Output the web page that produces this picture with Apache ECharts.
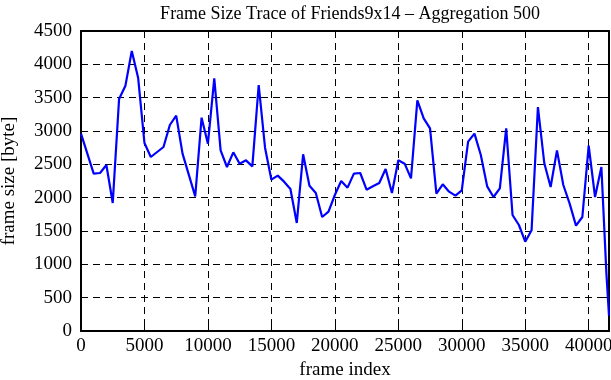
<!DOCTYPE html>
<html>
<head>
<meta charset="utf-8">
<script src="https://cdn.jsdelivr.net/npm/echarts@6/dist/echarts.min.js"></script>
<style>
html, body { margin: 0; padding: 0; background: #fff; }
#main { width: 611px; height: 380px; }
</style>
</head>
<body>
<div id="main"></div>
<script>
// frame index of each aggregated point (every 500 frames)
var frameIndex = [
  0, 1000, 1500, 2000, 2500, 3000, 3500, 4000, 4500, 5000,
  5500, 6500, 7000, 7500, 8000, 9000, 9500, 10000, 10500, 11000,
  11500, 12000, 12500, 13000, 13500, 14000, 14500, 15000, 15500, 16000,
  16500, 17000, 17500, 18000, 18500, 19000, 19500, 20000, 20500, 21000,
  21500, 22000, 22500, 23000, 23500, 24000, 24500, 25000, 25500, 26000,
  26500, 27000, 27500, 28000, 28500, 29000, 29500, 30000, 30500, 31000,
  31500, 32000, 32500, 33000, 33500, 34000, 34500, 35000, 35500, 36000,
  36500, 37000, 37500, 38000, 38500, 39000, 39500, 40000, 40500, 41000,
  41400, 41600
];
// frame size [byte]
var frameSize = [
  2960, 2360, 2370, 2490, 1920, 3480, 3680, 4200, 3800, 2820,
  2610, 2760, 3090, 3230, 2660, 2020, 3200, 2810, 3790, 2710,
  2460, 2680, 2510, 2560, 2470, 3690, 2750, 2270, 2330, 2240,
  2130, 1620, 2650, 2180, 2070, 1710, 1790, 2040, 2250, 2150,
  2360, 2370, 2120, 2170, 2220, 2430, 2070, 2560, 2510, 2290,
  3460, 3190, 3040, 2060, 2200, 2090, 2030, 2110, 2840, 2960,
  2640, 2170, 2010, 2140, 3040, 1740, 1590, 1340, 1510, 3360,
  2520, 2160, 2710, 2190, 1910, 1580, 1710, 2780, 2010, 2460,
  850, 230
];

var font = 'Liberation Serif';
var points = [];
for (var i = 0; i < frameIndex.length; i++) {
  points.push([frameIndex[i], frameSize[i]]);
}

var chart = echarts.init(document.getElementById('main'));
var dashed = { show: true, lineStyle: { color: '#000', width: 1, type: [7, 5] } };
var frame = { show: true, onZero: false, lineStyle: { color: '#000', width: 2 } };
var plain = function (v) { return String(v); };

chart.setOption({
  animation: false,
  backgroundColor: '#fff',
  title: {
    text: 'Frame Size Trace of Friends9x14 \u2013 Aggregation 500',
    left: 345,
    top: 0,
    textAlign: 'center',
    textStyle: { fontFamily: font, fontSize: 18, fontWeight: 'normal', color: '#000' }
  },
  grid: { left: 81, right: 2, top: 31, bottom: 49, outerBoundsMode: 'none' },
  xAxis: [
    {
      type: 'value', min: 0, max: 41600, interval: 5000,
      name: 'frame index', nameLocation: 'middle', nameGap: 30,
      nameTextStyle: { fontFamily: font, fontSize: 19, color: '#000' },
      axisLine: frame,
      axisTick: { show: true, inside: true, length: 6, lineStyle: { color: '#000', width: 1 } },
      axisLabel: { fontFamily: font, fontSize: 19, color: '#000', margin: 6, showMaxLabel: false, formatter: plain },
      splitLine: dashed
    },
    {
      type: 'value', position: 'top', min: 0, max: 41600, interval: 5000,
      axisLine: frame,
      axisTick: { show: true, inside: true, length: 6, lineStyle: { color: '#000', width: 1 } },
      axisLabel: { show: false },
      splitLine: { show: false }
    }
  ],
  yAxis: [
    {
      type: 'value', min: 0, max: 4500, interval: 500,
      name: 'frame size [byte]', nameLocation: 'middle', nameGap: 62,
      nameTextStyle: { fontFamily: font, fontSize: 19, color: '#000' },
      axisLine: frame,
      axisTick: { show: true, inside: true, length: 6, lineStyle: { color: '#000', width: 1 } },
      axisLabel: { fontFamily: font, fontSize: 19, color: '#000', margin: 9, formatter: plain },
      splitLine: dashed
    },
    {
      type: 'value', position: 'right', min: 0, max: 4500, interval: 500,
      axisLine: frame,
      axisTick: { show: true, inside: true, length: 6, lineStyle: { color: '#000', width: 1 } },
      axisLabel: { show: false },
      splitLine: { show: false }
    }
  ],
  series: [
    {
      type: 'line',
      data: points,
      showSymbol: false,
      lineStyle: { color: '#0000ff', width: 2.2 },
      itemStyle: { color: '#0000ff' }
    }
  ]
});
</script>
</body>
</html>
